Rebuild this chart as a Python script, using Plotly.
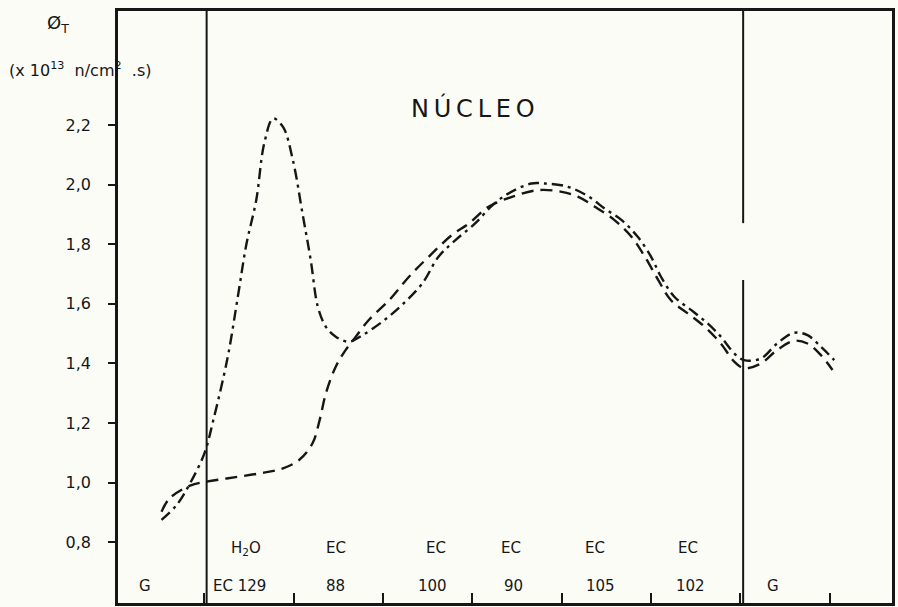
import plotly.graph_objects as go

# ---- data ----
# x: position across the section (region boundaries at integer-ish values)
x_dashdot = [0.52, 0.69, 0.84, 1.00, 1.10, 1.26, 1.38, 1.47, 1.58, 1.67, 1.77, 1.88, 1.99, 2.10,
             2.19, 2.27, 2.36, 2.47, 2.62, 2.77, 2.99, 3.21, 3.44, 3.62, 3.81, 4.03, 4.22, 4.40,
             4.66, 4.81, 5.07, 5.30, 5.48, 5.67, 5.85, 6.00, 6.11, 6.26, 6.45, 6.63, 6.78, 6.93,
             7.04, 7.23, 7.41, 7.60, 7.75, 7.90, 8.05]
phi_dashdot = [0.875, 0.925, 0.998, 1.098, 1.21, 1.42, 1.635, 1.80, 1.948, 2.139, 2.222, 2.194, 2.083, 1.90,
               1.747, 1.59, 1.523, 1.49, 1.473, 1.495, 1.54, 1.596, 1.669, 1.758, 1.814, 1.87, 1.93, 1.97,
               2.004, 2.004, 1.993, 1.96, 1.92, 1.881, 1.825, 1.758, 1.691, 1.624, 1.579, 1.535, 1.49, 1.434,
               1.411, 1.417, 1.467, 1.503, 1.495, 1.456, 1.411]

x_dashed = [0.52, 0.61, 0.84, 1.02, 1.25, 1.62, 1.88, 2.06, 2.21, 2.29, 2.36, 2.47, 2.58, 2.68,
            2.84, 3.07, 3.29, 3.51, 3.77, 3.96, 4.18, 4.45, 4.74, 5.00, 5.18, 5.37, 5.59, 5.78,
            5.93, 6.08, 6.22, 6.41, 6.60, 6.78, 6.93, 7.04, 7.23, 7.41, 7.60, 7.75, 7.90, 8.03]
phi_dashed = [0.902, 0.947, 0.990, 1.003, 1.014, 1.031, 1.048, 1.076, 1.132, 1.21, 1.30, 1.389, 1.445, 1.484,
              1.546, 1.613, 1.691, 1.758, 1.831, 1.87, 1.926, 1.96, 1.982, 1.976, 1.96, 1.926, 1.881, 1.825,
              1.758, 1.68, 1.613, 1.568, 1.523, 1.467, 1.406, 1.384, 1.40, 1.445, 1.476, 1.467, 1.428, 1.378]

y_tick_vals = [0.8, 1.0, 1.2, 1.4, 1.6, 1.8, 2.0, 2.2]
y_tick_text = ["0,8", "1,0", "1,2", "1,4", "1,6", "1,8", "2,0", "2,2"]
x_tick_vals = [1, 2, 3, 4, 5, 6, 7, 8]

# element labels (upper row / lower row) and their positions
upper_labels = ["H<sub>2</sub>O", "EC", "EC", "EC", "EC", "EC"]
upper_x = [1.47, 2.47, 3.59, 4.43, 5.37, 6.41]
lower_labels = ["G", "EC 129", "88", "100", "90", "105", "102", "G"]
lower_x = [0.33, 1.39, 2.47, 3.55, 4.46, 5.43, 6.44, 7.36]
core_bounds = [1.025, 7.03]

INK = "#161616"
FONT = "DejaVu Sans"

fig = go.Figure()
fig.add_trace(go.Scatter(x=x_dashdot, y=phi_dashdot, mode="lines",
                         line=dict(color=INK, width=2.4, dash="11px,5px,3px,5px", shape="spline", smoothing=1.0),
                         showlegend=False, hoverinfo="skip"))
fig.add_trace(go.Scatter(x=x_dashed, y=phi_dashed, mode="lines",
                         line=dict(color=INK, width=2.4, dash="12px,7px", shape="spline", smoothing=1.0),
                         showlegend=False, hoverinfo="skip"))

Y0, Y1 = 0.596, 2.583
# core boundary lines
fig.add_shape(type="line", x0=core_bounds[0], x1=core_bounds[0], y0=Y0, y1=Y1,
              line=dict(color=INK, width=2))
fig.add_shape(type="line", x0=core_bounds[1], x1=core_bounds[1], y0=1.871, y1=Y1,
              line=dict(color=INK, width=2))
fig.add_shape(type="line", x0=core_bounds[1], x1=core_bounds[1], y0=Y0, y1=1.68,
              line=dict(color=INK, width=2))

ann = []
for t, xv in zip(upper_labels, upper_x):
    ann.append(dict(x=xv, y=0.78, text=t, showarrow=False, xanchor="center",
                    font=dict(family=FONT, size=15, color=INK)))
for t, xv in zip(lower_labels, lower_x):
    ann.append(dict(x=xv, y=0.652, text=t, showarrow=False, xanchor="center",
                    font=dict(family=FONT, size=15, color=INK)))
ann.append(dict(x=4.01, y=2.257, text="N\u2009Ú\u2009C\u2009L\u2009E\u2009O", showarrow=False,
                xanchor="center", font=dict(family=FONT, size=24, color=INK)))
ann.append(dict(xref="paper", yref="paper", x=-0.077, y=0.978, text="Ø<sub>T</sub>", showarrow=False,
                xanchor="center", yanchor="middle", font=dict(family=FONT, size=18, color=INK)))
ann.append(dict(xref="paper", yref="paper", x=-0.049, y=0.902,
                text="(x 10<sup>13</sup>  n/cm<sup>2</sup>  .s)", showarrow=False,
                xanchor="center", yanchor="middle", font=dict(family=FONT, size=16, color=INK)))

fig.update_layout(
    width=898, height=607,
    margin=dict(l=118, r=3, t=11, b=4),
    paper_bgcolor="#fcfcf7", plot_bgcolor="#fcfcf7",
    annotations=ann,
    xaxis=dict(range=[0.033, 8.696], showgrid=False, zeroline=False,
               showline=True, linecolor=INK, linewidth=2.5, mirror=True,
               tickvals=x_tick_vals, ticks="inside", ticklen=10, tickwidth=2, tickcolor=INK,
               showticklabels=False),
    yaxis=dict(range=[Y0, Y1], showgrid=False, zeroline=False,
               showline=True, linecolor=INK, linewidth=2.5, mirror=True,
               tickvals=y_tick_vals, ticktext=y_tick_text, ticks="outside", ticklen=7,
               tickwidth=2, tickcolor=INK, ticklabelstandoff=14,
               tickfont=dict(family=FONT, size=16, color=INK)),
)

fig.write_html(
    "out.html",
    config={"responsive": False, "displayModeBar": False},
    post_script="document.body.style.margin='0';document.body.style.overflow='hidden';"
                "document.body.style.background='#fcfcf7';",
)
